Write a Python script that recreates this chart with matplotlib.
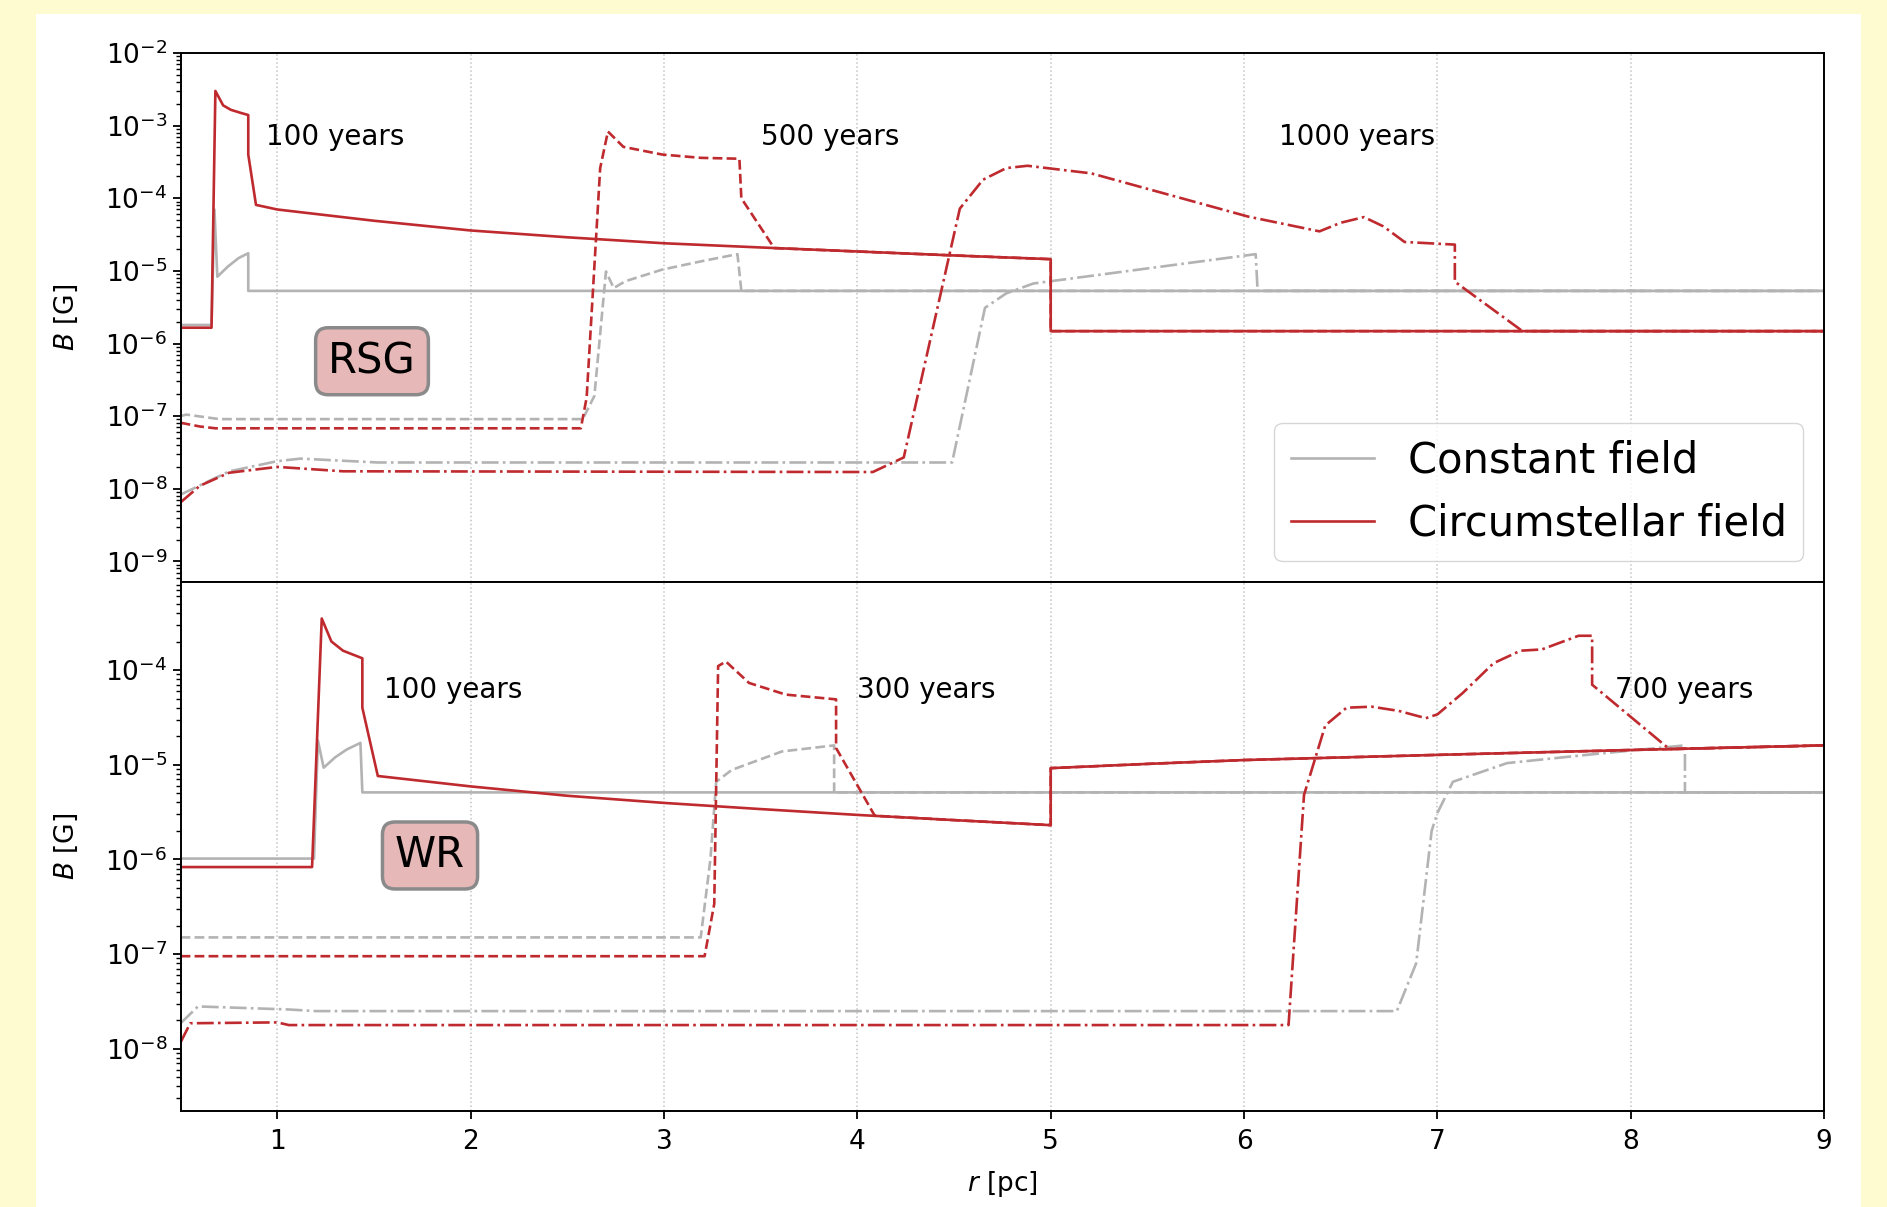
import numpy as np
import matplotlib.pyplot as plt
from matplotlib.patches import Rectangle
from matplotlib.ticker import LogLocator, NullFormatter

# ---- RSG progenitor (top panel) ----
# unshocked circumstellar field outside the remnant
r_amb_rsg = [0.89, 1.0, 1.5, 2.0, 2.5, 3.0, 3.5, 4.0, 4.5, 5.0, 5.0, 9.0]
B_amb_rsg = [8.1e-5, 7.0e-5, 4.9e-5, 3.6e-5, 2.9e-5, 2.4e-5, 2.1e-5, 1.85e-5, 1.63e-5, 1.45e-5, 1.48e-6, 1.48e-6]

# circumstellar field, inside the remnant
r_rsg_100 = [0.5, 0.66, 0.68, 0.72, 0.76, 0.81, 0.85, 0.85, 0.89]
B_rsg_100 = [1.65e-6, 1.65e-6, 3.0e-3, 1.9e-3, 1.65e-3, 1.5e-3, 1.4e-3, 4.0e-4, 8.1e-5]
r_rsg_500 = [0.5, 0.6, 0.68, 2.57, 2.60, 2.67, 2.71, 2.79, 2.99, 3.19, 3.39, 3.40, 3.57]
B_rsg_500 = [8.1e-8, 7.2e-8, 6.8e-8, 6.8e-8, 1.8e-7, 2.6e-4, 8.3e-4, 5.1e-4, 4.0e-4, 3.6e-4, 3.5e-4, 1.0e-4, 2.06e-5]
r_rsg_1000 = [0.5, 0.6, 0.75, 1.0, 1.34, 4.08, 4.24, 4.53, 4.65, 4.77, 4.88, 5.21, 6.02, 6.39,
              6.50, 6.62, 6.72, 6.83, 7.09, 7.09, 7.44]
B_rsg_1000 = [6.5e-9, 1.1e-8, 1.66e-8, 2.0e-8, 1.74e-8, 1.7e-8, 2.7e-8, 7.2e-5, 1.8e-4, 2.6e-4, 2.8e-4,
              2.2e-4, 5.6e-5, 3.5e-5, 4.6e-5, 5.5e-5, 4.1e-5, 2.5e-5, 2.3e-5, 7.1e-6, 1.48e-6]

# constant field
r_rsg_c100 = [0.5, 0.66, 0.675, 0.69, 0.745, 0.80, 0.85, 0.85, 9.0]
B_rsg_c100 = [1.8e-6, 1.8e-6, 7.0e-5, 8.3e-6, 1.15e-5, 1.5e-5, 1.75e-5, 5.3e-6, 5.3e-6]
r_rsg_c500 = [0.5, 0.53, 0.7, 2.58, 2.64, 2.70, 2.74, 2.80, 2.99, 3.19, 3.38, 3.40, 9.0]
B_rsg_c500 = [1.0e-7, 1.05e-7, 9.1e-8, 9.1e-8, 1.9e-7, 9.8e-6, 5.8e-6, 7.2e-6, 1.04e-5, 1.35e-5, 1.7e-5, 5.3e-6, 5.3e-6]
r_rsg_c1000 = [0.5, 0.75, 1.0, 1.12, 1.52, 4.49, 4.66, 4.77, 4.91, 6.06, 6.07, 9.0]
B_rsg_c1000 = [8.3e-9, 1.73e-8, 2.4e-8, 2.6e-8, 2.3e-8, 2.3e-8, 3.1e-6, 4.9e-6, 6.7e-6, 1.7e-5, 5.3e-6, 5.3e-6]

# ---- WR progenitor (bottom panel) ----
r_amb_wr = [1.52, 2.0, 2.5, 3.0, 3.5, 4.0, 4.5, 5.0, 5.0, 5.5, 6.0, 7.0, 8.0, 9.0]
B_amb_wr = [7.6e-6, 5.9e-6, 4.7e-6, 3.95e-6, 3.4e-6, 2.95e-6, 2.6e-6, 2.3e-6, 9.2e-6, 1.02e-5, 1.12e-5, 1.27e-5, 1.43e-5, 1.6e-5]

r_wr_100 = [0.5, 1.18, 1.23, 1.28, 1.34, 1.44, 1.44, 1.52]
B_wr_100 = [8.3e-7, 8.3e-7, 3.5e-4, 2.0e-4, 1.6e-4, 1.33e-4, 4.0e-5, 7.6e-6]
r_wr_300 = [0.5, 3.21, 3.26, 3.28, 3.32, 3.44, 3.63, 3.89, 3.89, 4.09]
B_wr_300 = [9.5e-8, 9.5e-8, 3.4e-7, 1.1e-4, 1.23e-4, 7.3e-5, 5.5e-5, 4.9e-5, 1.5e-5, 2.89e-6]
r_wr_700 = [0.5, 0.55, 1.0, 1.06, 6.23, 6.31, 6.42, 6.53, 6.66, 6.80, 6.94, 7.0, 7.13, 7.29,
            7.43, 7.54, 7.73, 7.80, 7.80, 8.20]
B_wr_700 = [1.17e-8, 1.86e-8, 1.9e-8, 1.78e-8, 1.78e-8, 4.8e-6, 2.6e-5, 4.0e-5, 4.1e-5, 3.7e-5, 3.1e-5,
            3.4e-5, 5.7e-5, 1.18e-4, 1.6e-4, 1.65e-4, 2.3e-4, 2.3e-4, 7.0e-5, 1.46e-5]

r_wr_c100 = [0.5, 1.19, 1.21, 1.24, 1.30, 1.36, 1.43, 1.44, 9.0]
B_wr_c100 = [1.02e-6, 1.02e-6, 1.8e-5, 9.3e-6, 1.2e-5, 1.45e-5, 1.7e-5, 5.1e-6, 5.1e-6]
r_wr_c300 = [0.5, 3.19, 3.24, 3.27, 3.35, 3.61, 3.88, 3.88, 9.0]
B_wr_c300 = [1.5e-7, 1.5e-7, 1.0e-6, 6.6e-6, 8.8e-6, 1.38e-5, 1.6e-5, 5.1e-6, 5.1e-6]
r_wr_c700 = [0.5, 0.59, 1.06, 1.2, 6.79, 6.89, 6.97, 7.0, 7.08, 7.36, 7.82, 8.28, 8.28, 9.0]
B_wr_c700 = [1.86e-8, 2.8e-8, 2.6e-8, 2.5e-8, 2.5e-8, 8.0e-8, 2.0e-6, 3.1e-6, 6.6e-6, 1.04e-5, 1.3e-5, 1.6e-5, 5.1e-6, 5.1e-6]

RED = '#bf2a2f'
GRAY = '#b3b3b3'
LW = 1.9


def with_ambient(r_in, b_in, r_amb, b_amb):
    # continue a profile with the unshocked medium beyond its last point
    r_out = list(r_in) + [r for r in r_amb if r > r_in[-1]]
    b_out = list(b_in) + [b for r, b in zip(r_amb, b_amb) if r > r_in[-1]]
    return r_out, b_out


fig = plt.figure(figsize=(18.87, 12.07), dpi=100, facecolor='#fffbd0')
fig.add_artist(Rectangle((36 / 1887, 0), 1825 / 1887, 1193 / 1207, transform=fig.transFigure,
                         facecolor='white', edgecolor='none', zorder=-1))

ax1 = fig.add_axes([0.0957, 0.5178, 0.8710, 0.4383])
ax2 = fig.add_axes([0.0957, 0.0795, 0.8710, 0.4383], sharex=ax1)

styles = ['-', '--', '-.']

# top panel
for (r, b), ls in zip([(r_rsg_c100, B_rsg_c100), (r_rsg_c500, B_rsg_c500), (r_rsg_c1000, B_rsg_c1000)], styles):
    ax1.plot(r, b, color=GRAY, lw=LW, ls=ls)
for (r, b), ls in zip([(r_rsg_100, B_rsg_100), (r_rsg_500, B_rsg_500), (r_rsg_1000, B_rsg_1000)], styles):
    rr, bb = with_ambient(r, b, r_amb_rsg, B_amb_rsg)
    ax1.plot(rr, bb, color=RED, lw=LW, ls=ls)

# bottom panel
for (r, b), ls in zip([(r_wr_c100, B_wr_c100), (r_wr_c300, B_wr_c300), (r_wr_c700, B_wr_c700)], styles):
    ax2.plot(r, b, color=GRAY, lw=LW, ls=ls)
for (r, b), ls in zip([(r_wr_100, B_wr_100), (r_wr_300, B_wr_300), (r_wr_700, B_wr_700)], styles):
    rr, bb = with_ambient(r, b, r_amb_wr, B_amb_wr)
    ax2.plot(rr, bb, color=RED, lw=LW, ls=ls)

# legend proxies
ax1.plot([], [], color=GRAY, lw=LW, label='Constant field')
ax1.plot([], [], color=RED, lw=LW, label='Circumstellar field')
ax1.legend(loc='lower right', fontsize=30)

for ax, lims in [(ax1, (5.2e-10, 1e-2)), (ax2, (2.2e-9, 8.5e-4))]:
    ax.set_yscale('log')
    ax.set_ylim(*lims)
    ax.set_xlim(0.5, 9)
    ax.yaxis.set_major_locator(LogLocator(base=10, numticks=30))
    ax.yaxis.set_minor_locator(LogLocator(base=10, subs=np.arange(2, 10), numticks=100))
    ax.yaxis.set_minor_formatter(NullFormatter())
    ax.grid(True, axis='x', ls=':', color='#c4c4c4', lw=1.1)
    ax.set_ylabel(r'$B$ [G]', fontsize=19, labelpad=18)
    ax.tick_params(axis='y', which='major', length=6, width=1.3, labelsize=19)
    ax.tick_params(axis='y', which='minor', length=3.5, width=1.0)
    for sp in ax.spines.values():
        sp.set_linewidth(1.4)

ax1.tick_params(axis='x', length=0, labelbottom=False)
ax2.tick_params(axis='x', length=6, width=1.3, labelsize=19, pad=7)
ax2.set_xticks(range(1, 10))
ax2.set_xlabel(r'$r$ [pc]', fontsize=19, labelpad=10)

# epoch labels
ax1.text(0.94, 7.0e-4, '100 years', fontsize=20, va='center')
ax1.text(3.50, 7.0e-4, '500 years', fontsize=20, va='center')
ax1.text(6.18, 7.0e-4, '1000 years', fontsize=20, va='center')
ax2.text(1.55, 6.1e-5, '100 years', fontsize=20, va='center')
ax2.text(4.0, 6.1e-5, '300 years', fontsize=20, va='center')
ax2.text(7.92, 6.1e-5, '700 years', fontsize=20, va='center')

box = dict(boxstyle='round,pad=0.3', facecolor='#e6b8b8', edgecolor='#8a8a8a', lw=2.5)
ax1.text(1.49, 5.7e-7, 'RSG', fontsize=30, ha='center', va='center', bbox=box)
ax2.text(1.79, 1.1e-6, 'WR', fontsize=30, ha='center', va='center', bbox=box)

fig.savefig('out.png', dpi=100, facecolor=fig.get_facecolor())
